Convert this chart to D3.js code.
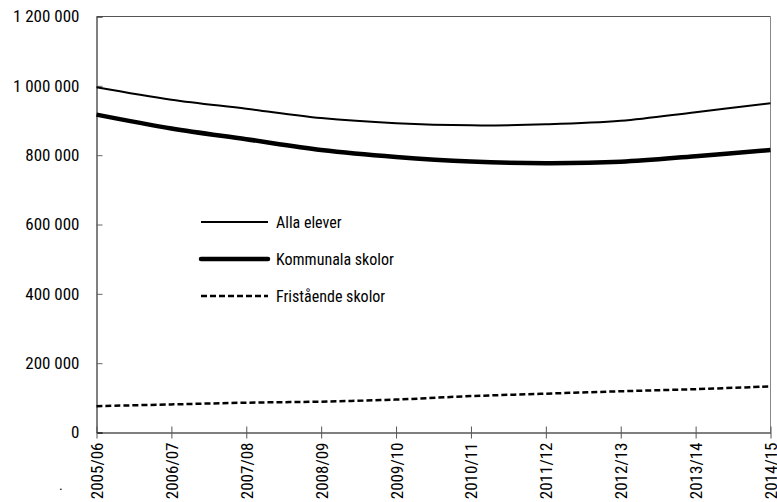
<!DOCTYPE html>
<html>
<head>
<meta charset="utf-8">
<script src="https://cdn.jsdelivr.net/npm/d3@7"></script>
<style>
  html, body { margin: 0; padding: 0; background: #fff; }
  svg text { font-family: "Liberation Sans Narrow", "Arial Narrow", "Roboto Condensed", sans-serif; fill: #000; }
</style>
</head>
<body>
<svg id="chart" width="777" height="502"></svg>
<script>
const categories = ["2005/06","2006/07","2007/08","2008/09","2009/10","2010/11","2011/12","2012/13","2013/14","2014/15"];
const allaElever = [996000, 960000, 934000, 907000, 892000, 886000, 889000, 899000, 924000, 950000];
const kommunala = [917000, 877000, 846000, 815000, 795000, 782000, 777000, 781000, 797000, 815000];
const fristaende = [76000, 81000, 86000, 89000, 95000, 105000, 112000, 119000, 125000, 133000];
const yTicks = [0, 200000, 400000, 600000, 800000, 1000000, 1200000];
const seriesNames = ["Alla elever", "Kommunala skolor", "Fristående skolor"];

const svg = d3.select("#chart");
const mLeft = 96.5, mRight = 770.5, mTop = 16.5, mBottom = 432.5;

const x = d3.scalePoint().domain(categories).range([mLeft, mRight]);
const y = d3.scaleLinear().domain([0, 1200000]).range([mBottom, mTop]);

const fmt = v => d3.format(",")(v).replace(/,/g, " ");

// frame top and right
svg.append("line").attr("x1", mLeft).attr("x2", mRight).attr("y1", mTop).attr("y2", mTop)
  .attr("stroke", "#555").attr("stroke-width", 1);
svg.append("line").attr("x1", mRight).attr("x2", mRight).attr("y1", mTop).attr("y2", mBottom)
  .attr("stroke", "#888").attr("stroke-width", 1);

// y axis
const yAxis = svg.append("g").attr("transform", `translate(${mLeft},0)`)
  .call(d3.axisLeft(y).tickValues(yTicks).tickFormat(fmt).tickSize(-6).tickPadding(17));
yAxis.select(".domain").attr("stroke", "#000");
yAxis.selectAll(".tick line").attr("stroke", "#666");
yAxis.selectAll("text").attr("font-size", 17).attr("font-family", null).attr("fill", "#000");

// x axis
const xAxis = svg.append("g").attr("transform", `translate(0,${mBottom})`)
  .call(d3.axisBottom(x).tickSizeInner(6).tickSizeOuter(0).tickPadding(10));
xAxis.select(".domain").attr("stroke", "#000");
xAxis.selectAll(".tick line").attr("y1", -6).attr("y2", 6).attr("stroke", "#555");
xAxis.selectAll("text")
  .attr("font-size", 17).attr("font-family", null).attr("fill", "#000")
  .attr("transform", "rotate(-90)")
  .attr("text-anchor", "end")
  .attr("x", -10).attr("y", 0).attr("dy", "0.35em");

const line = d3.line()
  .x((d, i) => x(categories[i]))
  .y(d => y(d))
  .curve(d3.curveCatmullRom.alpha(0.5));

const styles = [
  { data: allaElever, w: 2, dash: null },
  { data: kommunala, w: 4.5, dash: null },
  { data: fristaende, w: 2.5, dash: "6,3" }
];

styles.forEach(s => {
  svg.append("path").datum(s.data).attr("d", line)
    .attr("fill", "none").attr("stroke", "#000")
    .attr("stroke-width", s.w)
    .attr("stroke-dasharray", s.dash);
});

// legend
const legendY = [222, 259, 296];
styles.forEach((s, i) => {
  svg.append("line").attr("x1", 201).attr("x2", 268)
    .attr("y1", legendY[i]).attr("y2", legendY[i])
    .attr("stroke", "#000").attr("stroke-width", s.w)
    .attr("stroke-linecap", i === 1 ? "round" : "butt")
    .attr("stroke-dasharray", s.dash);
  svg.append("text").attr("x", 276).attr("y", legendY[i]).attr("dy", "0.35em")
    .attr("font-size", 16).text(seriesNames[i]);
});

svg.append("text").attr("x", 59).attr("y", 490).attr("font-size", 14).text(".");
</script>
</body>
</html>
